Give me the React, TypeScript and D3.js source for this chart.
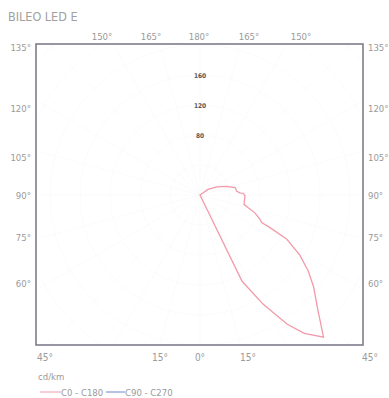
import React from "react";
import * as d3 from "d3";

// C0 - C180 curve, angle from nadir (deg) and intensity (cd/klm)
const c0Angles = [180, 125, 116, 108, 102, 96, 93, 92, 89, 78, 75, 72, 68, 66, 65, 63, 59, 55, 51, 46, 41, 37, 34, 30, 26, 24];
const c0Values = [0, 13, 25, 37, 48, 49, 53, 58, 60, 60, 67, 77, 86, 90, 103, 130, 155, 176, 195, 218, 251, 231, 208, 168, 128, 0];

const ringValues = [80, 120, 160];
const topLabels = ["150°", "165°", "180°", "165°", "150°"];
const sideLabels = ["135°", "120°", "105°", "90°", "75°", "60°"];
const bottomLabels = ["45°", "15°", "0°", "15°", "45°"];
const legendNames = ["C0 - C180", "C90 - C270"];
const legendColors = ["#f29aaa", "#6f86c4"];

export default function App() {
  const W = 389;
  const H = 398;
  const box = { left: 36, right: 363, top: 44, bottom: 345 };
  const cx = 200;
  const cy = 195;
  const r = d3.scaleLinear().domain([0, 40]).range([0, 30]);

  const line = d3
    .lineRadial<number>()
    .angle((_, i) => Math.PI - (c0Angles[i] * Math.PI) / 180)
    .radius((d) => r(d))
    .curve(d3.curveLinearClosed);

  const textColor = "#9a9a9a";
  const font = "'DejaVu Sans Condensed', 'Liberation Sans', sans-serif";

  // label positions
  const topX = [102, 151, 199, 249, 301];
  const sideY = [47, 108, 157, 195, 237, 283];
  const bottomX = [45, 160, 200, 248, 370];

  const rays = d3.range(0, 360, 15);
  const rings = d3.range(40, 440, 40);

  return (
    <svg width={W} height={H} style={{ position: "absolute", left: 0, top: 0, background: "#fff" }}>
      <defs>
        <clipPath id="boxclip">
          <rect x={box.left} y={box.top} width={box.right - box.left} height={box.bottom - box.top} />
        </clipPath>
      </defs>
      <text x={8} y={21} fontSize={12.5} fill="#a0a0a0" fontFamily={font}>
        BILEO LED E
      </text>
      <g clipPath="url(#boxclip)" stroke="#f6f6f6" strokeWidth={0.5} fill="none">
        {rings.map((v) => (
          <circle key={v} cx={cx} cy={cy} r={r(v)} />
        ))}
        {rays.map((a) => (
          <line
            key={a}
            x1={cx}
            y1={cy}
            x2={cx + 400 * Math.sin((a * Math.PI) / 180)}
            y2={cy + 400 * Math.cos((a * Math.PI) / 180)}
          />
        ))}
      </g>
      <rect
        x={box.left}
        y={box.top}
        width={box.right - box.left}
        height={box.bottom - box.top}
        fill="none"
        stroke="#7d7d8c"
        strokeWidth={1.6}
      />
      {ringValues.map((v) => (
        <text
          key={v}
          x={cx}
          y={cy - r(v) + 2.5}
          textAnchor="middle"
          fontSize={6.5}
          fontWeight="bold"
          fill="#555"
          fontFamily={font}
        >
          {v}
        </text>
      ))}
      <path d={line(c0Values) || ""} transform={`translate(${cx},${cy})`} fill="none" stroke={legendColors[0]} strokeWidth={1.3} />
      {topLabels.map((t, i) => (
        <text key={"t" + i} x={topX[i]} y={40} textAnchor="middle" fontSize={9.5} fill={textColor} fontFamily={font}>
          {t}
        </text>
      ))}
      {sideLabels.map((t, i) => (
        <g key={"s" + i}>
          <text x={31} y={sideY[i] + 3.5} textAnchor="end" fontSize={9.5} fill={textColor} fontFamily={font}>
            {t}
          </text>
          <text x={368} y={sideY[i] + 3.5} textAnchor="start" fontSize={9.5} fill={textColor} fontFamily={font}>
            {t}
          </text>
        </g>
      ))}
      {bottomLabels.map((t, i) => (
        <text key={"b" + i} x={bottomX[i]} y={361} textAnchor="middle" fontSize={10} fill={textColor} fontFamily={font}>
          {t}
        </text>
      ))}
      <text x={38} y={380} fontSize={9.5} fill={textColor} fontFamily={font}>
        cd/km
      </text>
      <g fontSize={9.5} fill={textColor} fontFamily={font}>
        <line x1={40} x2={61} y1={392} y2={392} stroke={legendColors[0]} strokeWidth={1} />
        <text x={61} y={395.5}>{legendNames[0]}</text>
        <line x1={106} x2={125} y1={392} y2={392} stroke={legendColors[1]} strokeWidth={1} />
        <text x={125} y={395.5}>{legendNames[1]}</text>
      </g>
    </svg>
  );
}
